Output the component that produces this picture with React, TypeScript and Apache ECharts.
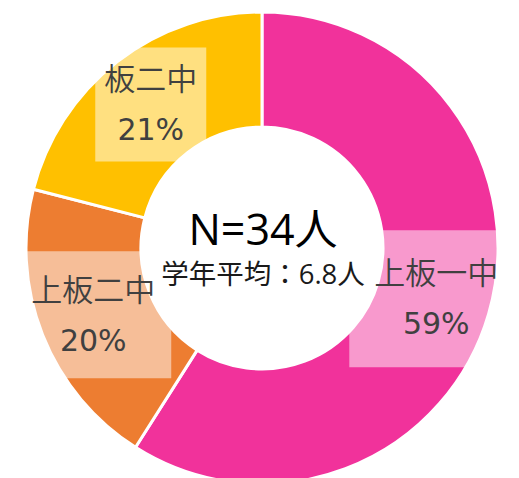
import React, { useEffect, useRef } from "react";
import * as echarts from "echarts";

const categories = ["上板一中", "上板二中", "板二中"];
const percents = [59, 20, 21];
const colors = ["#F1329B", "#ED7D31", "#FFC000"];
const labelPaddings = [
  [14, 25, 17, 25],
  [10, 16, 11, 16],
  [2, 9, 6, 9],
];
const totalText = "N=34人";
const avgText = "学年平均：6.8人";

export default function App() {
  const ref = useRef<HTMLDivElement>(null);
  useEffect(() => {
    if (!ref.current) return;
    const chart = echarts.init(ref.current, undefined, { renderer: "svg" });
    const cjk = "'Noto Sans CJK JP', 'Noto Sans', sans-serif";
    const latin = "'Open Sans', 'Noto Sans CJK JP', sans-serif";
    chart.setOption({
      animation: false,
      backgroundColor: "#ffffff",
      series: [
        {
          type: "pie",
          z: 1,
          center: [262, 248],
          radius: [121, 236],
          startAngle: 90,
          clockwise: true,
          avoidLabelOverlap: false,
          itemStyle: { borderColor: "#ffffff", borderWidth: 3 },
          label: {
            show: true,
            position: "inside",
            formatter: (p: any) => `{n|${p.name}}\n{v|${p.value}%}`,
            color: "#404040",
            backgroundColor: "rgba(255,255,255,0.5)",
            rich: {
              n: { fontFamily: cjk, fontWeight: 350, fontSize: 31, lineHeight: 53, color: "#404040" },
              v: { fontFamily: "'DejaVu Sans', sans-serif", fontWeight: 400, fontSize: 30, lineHeight: 53, color: "#404040" },
            },
          },
          labelLine: { show: false },
          data: categories.map((c, i) => ({
            name: c,
            value: percents[i],
            itemStyle: { color: colors[i] },
            label: { padding: labelPaddings[i] },
          })),
        },
      ],
      graphic: [
        {
          type: "text",
          z: 100,
          zlevel: 0,
          x: 263,
          y: 228,
          style: {
            text: totalText,
            font: `400 43px ${latin}`,
            fill: "#000000",
            align: "center",
            verticalAlign: "middle",
          },
        },
        {
          type: "text",
          z: 100,
          zlevel: 0,
          x: 263,
          y: 273,
          style: {
            text: avgText,
            font: `400 27.5px ${latin}`,
            fill: "#1a1a1a",
            align: "center",
            verticalAlign: "middle",
          },
        },
      ],
    });
    return () => chart.dispose();
  }, []);
  return (
    <div
      ref={ref}
      style={{ position: "absolute", left: 0, top: 0, width: 519, height: 478 }}
    />
  );
}
